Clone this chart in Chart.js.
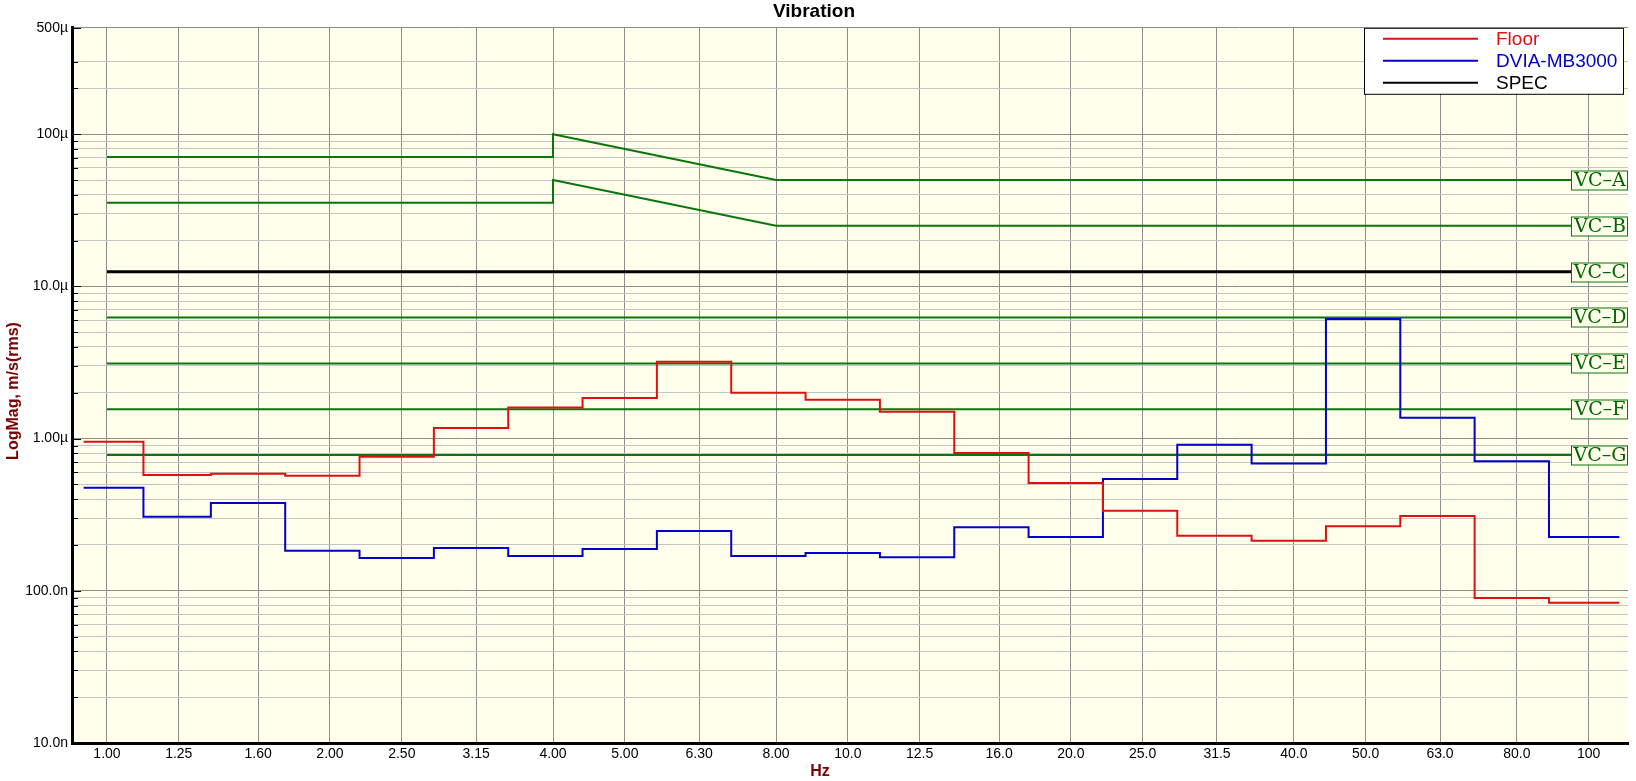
<!DOCTYPE html>
<html>
<head>
<meta charset="utf-8">
<title>Vibration</title>
<script src="https://cdn.jsdelivr.net/npm/chart.js@4.4.0/dist/chart.umd.min.js"></script>
<style>
  html, body { margin: 0; padding: 0; background: #fff; }
  #wrap { width: 1636px; height: 781px; }
</style>
</head>
<body>
<div id="wrap"><canvas id="chart" width="1636" height="781"></canvas></div>
<script>
// bandas de 1/3 de oitava (centro nominal, Hz)
const bandLabels = ['1.00', '1.25', '1.60', '2.00', '2.50', '3.15', '4.00', '5.00', '6.30', '8.00', '10.0',
  '12.5', '16.0', '20.0', '25.0', '31.5', '40.0', '50.0', '63.0', '80.0', '100'];
const bandFreqs = [1, 1.25, 1.6, 2, 2.5, 3.15, 4, 5, 6.3, 8, 10, 12.5, 16, 20, 25, 31.5, 40, 50, 63, 80, 100];

// medições, m/s rms
const floorVals = [0.955e-6, 0.576e-6, 0.588e-6, 0.570e-6, 0.761e-6, 1.176e-6, 1.60e-6, 1.845e-6, 3.20e-6,
  2.0e-6, 1.80e-6, 1.50e-6, 0.803e-6, 0.511e-6, 0.336e-6, 0.230e-6, 0.213e-6, 0.266e-6, 0.310e-6,
  0.0896e-6, 0.0834e-6];
const dviaVals = [0.475e-6, 0.306e-6, 0.377e-6, 0.183e-6, 0.164e-6, 0.191e-6, 0.169e-6, 0.188e-6, 0.247e-6,
  0.169e-6, 0.177e-6, 0.166e-6, 0.262e-6, 0.226e-6, 0.542e-6, 0.911e-6, 0.687e-6, 6.10e-6, 1.37e-6,
  0.711e-6, 0.226e-6];
const stepStart = 0.93;   // Hz, onde começam as curvas medidas
const firstEdge = 1.12;   // Hz, fim da primeira banda
const stepEnd = 110;      // Hz, onde terminam

// curvas VC
const vcCurveFreqs = [1, 4, 4, 8, 100];
const vcA = [70.7e-6, 70.7e-6, 100e-6, 50e-6, 50e-6];
const vcB = [35.4e-6, 35.4e-6, 50e-6, 25e-6, 25e-6];
const vcFlatFreqs = [1, 100];
const vcFlatNames = ['VC–C', 'VC–D', 'VC–E', 'VC–F', 'VC–G'];
const vcFlatLevels = [12.5e-6, 6.25e-6, 3.12e-6, 1.56e-6, 0.78e-6];

// eixo Y
const yMin = 1e-8, yMax = 5e-4;
const yTickValues = [1e-8, 1e-7, 1e-6, 1e-5, 1e-4, 5e-4];
const yTickLabels = ['10.0n', '100.0n', '1.00µ', '10.0µ', '100µ', '500µ'];
const yTopMinor = [2e-4, 3e-4];

const FONT = "'Liberation Sans', Arial, sans-serif";
const RED = '#DD1111', BLUE = '#0000CC', GREEN = '#0B760B', DARKRED = '#7B0000';
const PLOT_BG = '#FFFFEC';

// limites exactos das bandas (base 2)
function bandEdge(i) {
  if (i === 1) return firstEdge;
  return 1000 * Math.pow(2, (i - 30.5) / 3);
}

function stepPoints(vals) {
  const pts = vals.map((v, i) => ({ x: i === 0 ? stepStart : bandEdge(i), y: v }));
  pts.push({ x: stepEnd, y: vals[vals.length - 1] });
  return pts;
}

function zipPoints(xs, ys) {
  return xs.map((x, i) => ({ x: x, y: ys[i] }));
}

function allYTicks() {
  const out = [];
  for (let e = -8; e <= -5; e++) {
    for (let m = 1; m <= 9; m++) out.push(m * Math.pow(10, e));
  }
  out.push(1e-4);
  yTopMinor.forEach(v => out.push(v));
  out.push(yMax);
  return out;
}

function isMajor(v) {
  return yTickValues.some(t => Math.abs(t - v) / t < 1e-6);
}

const datasets = [
  { label: 'Floor', data: stepPoints(floorVals), borderColor: RED, borderWidth: 2, stepped: 'before', inLegend: true },
  { label: 'DVIA-MB3000', data: stepPoints(dviaVals), borderColor: BLUE, borderWidth: 2, stepped: 'before', inLegend: true },
  { label: 'SPEC', data: zipPoints(vcFlatFreqs, [vcFlatLevels[0], vcFlatLevels[0]]), borderColor: '#000000', borderWidth: 3, inLegend: true, vcLabel: vcFlatNames[0] },
  { label: 'VC-A', data: zipPoints(vcCurveFreqs, vcA), borderColor: GREEN, borderWidth: 2, vcLabel: 'VC–A' },
  { label: 'VC-B', data: zipPoints(vcCurveFreqs, vcB), borderColor: GREEN, borderWidth: 2, vcLabel: 'VC–B' }
];
for (let k = 1; k < vcFlatNames.length; k++) {
  datasets.push({ label: vcFlatNames[k], data: zipPoints(vcFlatFreqs, [vcFlatLevels[k], vcFlatLevels[k]]),
    borderColor: GREEN, borderWidth: 2, vcLabel: vcFlatNames[k] });
}
datasets.forEach(d => { d.pointRadius = 0; d.fill = false; d.tension = 0; });

// FUNDO, MARCAS, RÓTULOS VC E LEGENDA
const plotDecor = {
  id: 'plotDecor',
  beforeDraw(chart) {
    const { ctx, chartArea: a } = chart;
    ctx.save();
    ctx.fillStyle = PLOT_BG;
    ctx.fillRect(a.left, a.top, a.right - a.left, a.bottom - a.top);
    ctx.restore();
  },
  afterDraw(chart) {
    const { ctx, chartArea: a } = chart;
    const yScale = chart.scales.y;
    ctx.save();

    // marcas pequenas no lado de dentro do eixo Y
    ctx.strokeStyle = '#000';
    ctx.lineWidth = 1;
    yScale.ticks.forEach(t => {
      const py = Math.round(yScale.getPixelForValue(t.value)) + 0.5;
      const len = isMajor(t.value) ? 9 : 6;
      ctx.beginPath();
      ctx.moveTo(a.left, py);
      ctx.lineTo(a.left + len, py);
      ctx.stroke();
    });

    // caixas VC à direita
    ctx.font = "19px 'DejaVu Serif', serif";
    ctx.textAlign = 'center';
    ctx.textBaseline = 'middle';
    chart.data.datasets.forEach(d => {
      if (!d.vcLabel) return;
      const last = d.data[d.data.length - 1].y;
      const py = Math.round(yScale.getPixelForValue(last));
      const bx = a.right - 57, bw = 56, bh = 19;
      ctx.fillStyle = PLOT_BG;
      ctx.fillRect(bx, py - bh / 2, bw, bh);
      ctx.strokeStyle = GREEN;
      ctx.lineWidth = 1;
      ctx.strokeRect(bx + 0.5, py - bh / 2 + 0.5, bw, bh);
      ctx.fillStyle = '#006400';
      ctx.fillText(d.vcLabel, bx + bw / 2 + 1, py + 1);
    });

    // legenda
    const items = chart.data.datasets.filter(d => d.inLegend);
    const lx = a.right - 264, ly = a.top, lw = 259, lh = 66;
    ctx.fillStyle = '#fff';
    ctx.fillRect(lx, ly, lw, lh);
    ctx.strokeStyle = '#000';
    ctx.lineWidth = 1;
    ctx.strokeRect(lx + 0.5, ly + 0.5, lw, lh);
    ctx.font = '19px ' + FONT;
    ctx.textAlign = 'left';
    items.forEach((d, i) => {
      const py = ly + 11 + i * 22;
      ctx.strokeStyle = d.borderColor;
      ctx.lineWidth = 2;
      ctx.beginPath();
      ctx.moveTo(lx + 19, py);
      ctx.lineTo(lx + 114, py);
      ctx.stroke();
      ctx.fillStyle = d.borderColor;
      ctx.fillText(d.label, lx + 132, py + 1);
    });

    // títulos dos eixos
    ctx.fillStyle = DARKRED;
    ctx.font = 'bold 16px ' + FONT;
    ctx.textAlign = 'center';
    ctx.fillText('Hz', chart.width / 2 + 2, 772);
    ctx.translate(14, 391);
    ctx.rotate(-Math.PI / 2);
    ctx.fillText('LogMag, m/s(rms)', 0, 0);
    ctx.restore();
  }
};

function initChart() {
  Chart.defaults.font.family = FONT;
  const ctx = document.getElementById('chart');
  new Chart(ctx, {
    type: 'line',
    data: { datasets: datasets },
    plugins: [plotDecor],
    options: {
      responsive: false,
      animation: false,
      devicePixelRatio: 1,
      layout: { padding: { top: 0, right: 8, bottom: 0, left: 0 } },
      plugins: {
        legend: { display: false },
        tooltip: { enabled: false },
        title: {
          display: true,
          text: 'Vibration',
          color: '#000',
          font: { size: 19, weight: 'bold' },
          padding: { top: 0, bottom: 5 }
        }
      },
      scales: {
        x: {
          type: 'logarithmic',
          min: 0.897,
          max: 113,
          afterBuildTicks: scale => { scale.ticks = bandFreqs.map(v => ({ value: v })); },
          afterFit: scale => { scale.height = 38; },
          ticks: {
            autoSkip: false,
            maxRotation: 0,
            padding: 3,
            color: '#000',
            font: { size: 14 },
            callback: (value, index) => bandLabels[index]
          },
          grid: { color: '#8C8C8C', lineWidth: 1, drawTicks: false },
          border: { color: '#000', width: 3 }
        },
        y: {
          type: 'logarithmic',
          min: yMin,
          max: yMax,
          afterBuildTicks: scale => { scale.ticks = allYTicks().map(v => ({ value: v })); },
          afterFit: scale => { scale.width = 72; },
          ticks: {
            autoSkip: false,
            padding: 4,
            color: '#000',
            font: { size: 14 },
            callback: value => {
              const k = yTickValues.findIndex(t => Math.abs(t - value) / t < 1e-6);
              return k >= 0 ? yTickLabels[k] : '';
            }
          },
          grid: {
            color: c => (c.tick && isMajor(c.tick.value)) ? '#8C8C8C' : '#C4C4C4',
            lineWidth: 1,
            drawTicks: false
          },
          border: { color: '#000', width: 3 }
        }
      }
    }
  });
}

if (document.readyState === 'loading') {
  document.addEventListener('DOMContentLoaded', initChart);
} else {
  initChart();
}
</script>
</body>
</html>
